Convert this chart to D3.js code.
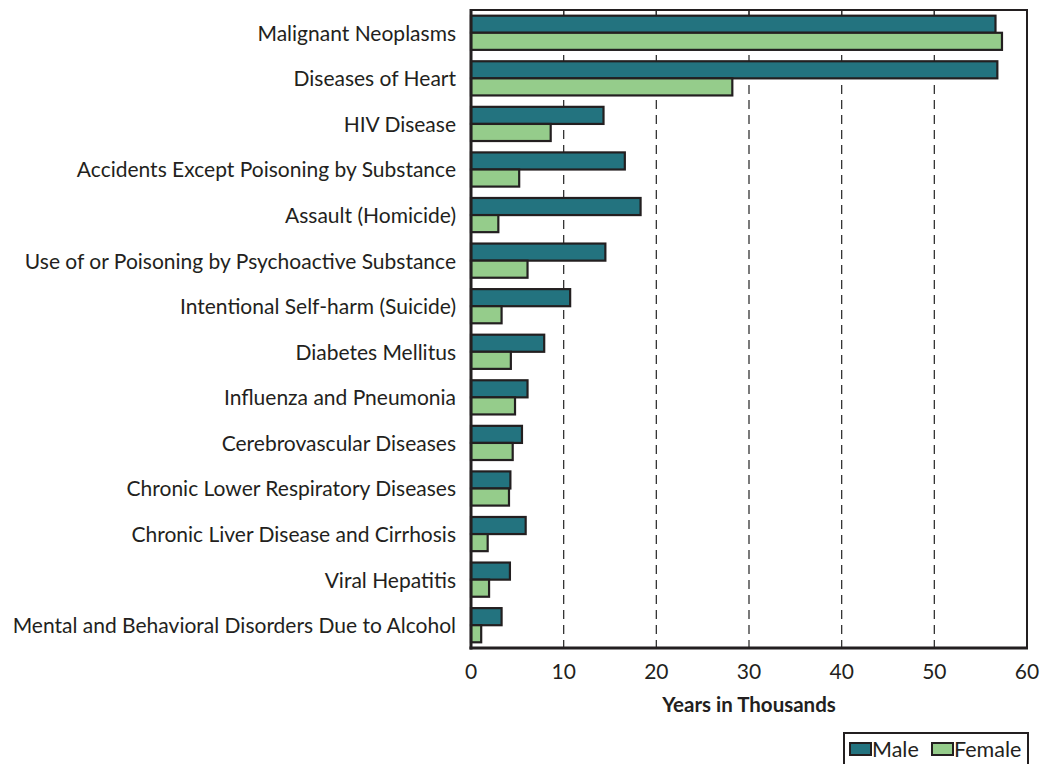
<!DOCTYPE html>
<html>
<head>
<meta charset="utf-8">
<script src="https://cdn.jsdelivr.net/npm/d3@7"></script>
<style>
  html, body { margin: 0; padding: 0; background: #fff; }
  svg { display: block; }
  text { font-family: Lato, "Open Sans", sans-serif; fill: #231f20; }
</style>
</head>
<body>
<svg id="chart" width="1042" height="764"></svg>
<script>
const categories = [
  "Malignant Neoplasms",
  "Diseases of Heart",
  "HIV Disease",
  "Accidents Except Poisoning by Substance",
  "Assault (Homicide)",
  "Use of or Poisoning by Psychoactive Substance",
  "Intentional Self-harm (Suicide)",
  "Diabetes Mellitus",
  "Influenza and Pneumonia",
  "Cerebrovascular Diseases",
  "Chronic Lower Respiratory Diseases",
  "Chronic Liver Disease and Cirrhosis",
  "Viral Hepatitis",
  "Mental and Behavioral Disorders Due to Alcohol"
];
const maleValues   = [56.6, 56.8, 14.3, 16.6, 18.3, 14.5, 10.7, 7.9, 6.1, 5.5, 4.25, 5.9, 4.2, 3.3];
const femaleValues = [57.3, 28.2, 8.6, 5.2, 2.95, 6.1, 3.3, 4.3, 4.75, 4.5, 4.1, 1.8, 1.95, 1.1];
const seriesNames = ["Male", "Female"];
const seriesColors = ["#23737f", "#95cc8b"];
const xTicks = [0, 10, 20, 30, 40, 50, 60];
const xTitle = "Years in Thousands";

(function () {
const svg = d3.select("#chart");
const pL = 471, pR = 1027, pT = 10, pB = 648;

const x = d3.scaleLinear().domain([0, 60]).range([pL, pR]);
const y = d3.scaleBand().domain(categories).range([pT, pB])
  .paddingInner(0.25).paddingOuter(0.125);
const sub = d3.scaleBand().domain(seriesNames).range([0, y.bandwidth()]).padding(0);

// grid lines
svg.append("g").selectAll("line").data(xTicks.slice(1, -1)).join("line")
  .attr("x1", d => x(d)).attr("x2", d => x(d))
  .attr("y1", pT).attr("y2", pB)
  .attr("stroke", "#333").attr("stroke-width", 1.3)
  .attr("stroke-dasharray", "9,6");
// top inner ticks
svg.append("g").selectAll("line").data(xTicks.slice(1, -1)).join("line")
  .attr("x1", d => x(d)).attr("x2", d => x(d))
  .attr("y1", pT).attr("y2", pT + 6)
  .attr("stroke", "#333").attr("stroke-width", 1.3);

// frame
svg.append("rect").attr("x", pL).attr("y", pT)
  .attr("width", pR - pL).attr("height", pB - pT)
  .attr("fill", "none").attr("stroke", "#231f20").attr("stroke-width", 2);

// bars
const rows = categories.map((c, i) => ({c, vals: [maleValues[i], femaleValues[i]]}));
const g = svg.append("g");
rows.forEach(r => {
  r.vals.forEach((v, j) => {
    g.append("rect")
      .attr("x", x(0))
      .attr("y", y(r.c) + sub(seriesNames[j]))
      .attr("width", x(v) - x(0))
      .attr("height", sub.bandwidth())
      .attr("fill", seriesColors[j])
      .attr("stroke", "#231f20").attr("stroke-width", 2.2);
  });
});

// axis lines (heavier left and bottom)
svg.append("line").attr("x1", pL).attr("x2", pL).attr("y1", pT - 1).attr("y2", pB + 1.5)
  .attr("stroke", "#231f20").attr("stroke-width", 3);
svg.append("line").attr("x1", pL - 1.5).attr("x2", pR + 1).attr("y1", pB).attr("y2", pB)
  .attr("stroke", "#231f20").attr("stroke-width", 3);

// category labels
svg.append("g").selectAll("text").data(categories).join("text")
  .attr("x", pL - 15)
  .attr("y", d => y(d) + y.bandwidth() / 2)
  .attr("dy", "0.38em")
  .attr("text-anchor", "end")
  .attr("font-size", 21)
  .text(d => d);

// x tick labels
svg.append("g").selectAll("text").data(xTicks).join("text")
  .attr("x", d => x(d))
  .attr("y", 679)
  .attr("text-anchor", "middle")
  .attr("font-size", 21)
  .text(d => d);

// axis title
svg.append("text").attr("x", (pL + pR) / 2).attr("y", 712)
  .attr("text-anchor", "middle").attr("font-size", 20.5).attr("font-weight", "bold")
  .text(xTitle);

// legend
const lg = svg.append("g");
lg.append("rect").attr("x", 844).attr("y", 733).attr("width", 184).attr("height", 40)
  .attr("fill", "#fff").attr("stroke", "#231f20").attr("stroke-width", 2);
const legX = [850, 932];
seriesNames.forEach((s, i) => {
  lg.append("rect").attr("x", legX[i]).attr("y", 743).attr("width", 21).attr("height", 12)
    .attr("fill", seriesColors[i]).attr("stroke", "#231f20").attr("stroke-width", 2);
  lg.append("text").attr("x", legX[i] + 22).attr("y", 757).attr("font-size", 21.5).text(s);
});
})();
</script>
</body>
</html>
